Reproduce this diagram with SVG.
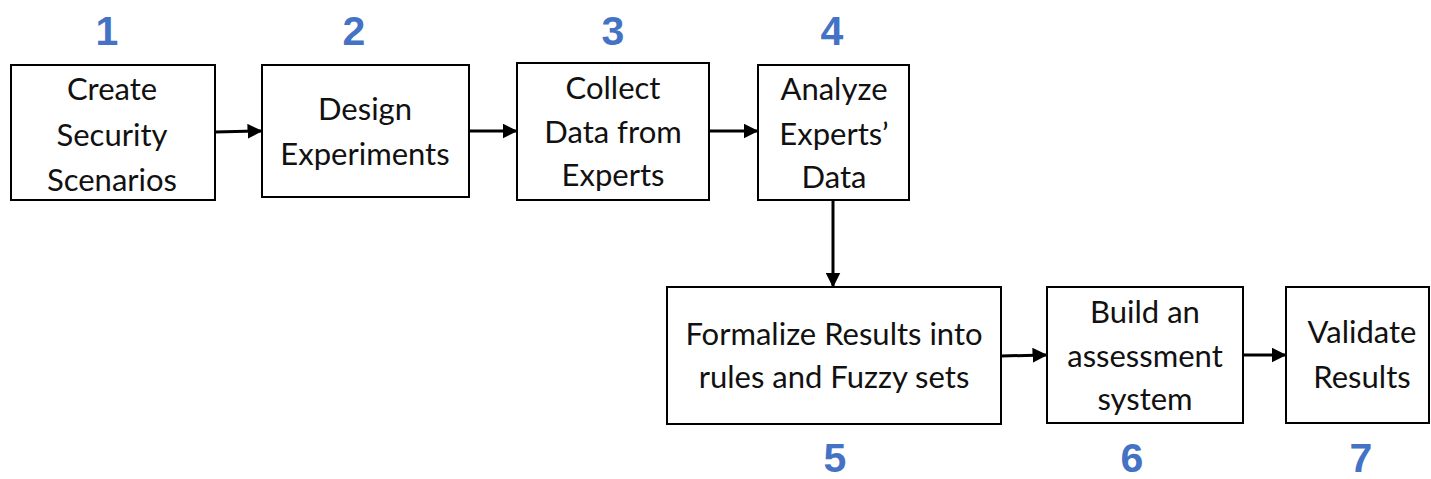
<svg xmlns="http://www.w3.org/2000/svg" width="1431" height="479" viewBox="0 0 1431 479">
<style>
.box{fill:#fff;stroke:#000;stroke-width:2}
.t{font-family:Lato,"Open Sans","Liberation Sans",sans-serif;font-size:31px;fill:#111;text-anchor:middle}
.n{font-family:"Liberation Sans",Arial,sans-serif;font-weight:bold;font-size:41px;fill:#4472C4;text-anchor:middle}
.c{stroke:#000;stroke-width:3;fill:none;marker-end:url(#ah)}
</style>
<defs>
<marker id="ah" markerWidth="5" markerHeight="5" refX="4.5" refY="2.5" orient="auto" markerUnits="strokeWidth">
<path d="M0,0 L5,2.5 L0,5 z" fill="#000"/>
</marker>
</defs>
<g id="connectors">
<line class="c" x1="215" y1="132" x2="261" y2="131"/>
<line class="c" x1="469" y1="131" x2="516" y2="131"/>
<line class="c" x1="709" y1="131" x2="757" y2="131"/>
<line class="c" x1="833" y1="200" x2="833" y2="286"/>
<line class="c" x1="1001" y1="356" x2="1046" y2="355"/>
<line class="c" x1="1243" y1="355" x2="1285" y2="355"/>
</g>
<g id="node1">
<rect class="box" x="11" y="65" width="204" height="135"/>
<text class="t" x="112" y="100">Create</text>
<text class="t" x="112" y="146">Security</text>
<text class="t" x="112" y="191">Scenarios</text>
<text class="n" x="107" y="45">1</text>
</g>
<g id="node2">
<rect class="box" x="262" y="65" width="207" height="132"/>
<text class="t" x="365" y="120">Design</text>
<text class="t" x="365" y="165">Experiments</text>
<text class="n" x="354" y="45">2</text>
</g>
<g id="node3">
<rect class="box" x="517" y="63" width="192" height="137"/>
<text class="t" x="613" y="99">Collect</text>
<text class="t" x="613" y="143">Data from</text>
<text class="t" x="613" y="186">Experts</text>
<text class="n" x="613" y="45">3</text>
</g>
<g id="node4">
<rect class="box" x="758" y="65" width="151" height="135"/>
<text class="t" x="834" y="100">Analyze</text>
<text class="t" x="834" y="145">Experts’</text>
<text class="t" x="834" y="188">Data</text>
<text class="n" x="832" y="45">4</text>
</g>
<g id="node5">
<rect class="box" x="667" y="287" width="334" height="137"/>
<text class="t" x="834" y="345">Formalize Results into</text>
<text class="t" x="834" y="388">rules and Fuzzy sets</text>
<text class="n" x="835" y="472">5</text>
</g>
<g id="node6">
<rect class="box" x="1047" y="287" width="196" height="136"/>
<text class="t" x="1145" y="323">Build an</text>
<text class="t" x="1145" y="367">assessment</text>
<text class="t" x="1145" y="410">system</text>
<text class="n" x="1132" y="472">6</text>
</g>
<g id="node7">
<rect class="box" x="1286" y="287" width="143" height="136"/>
<text class="t" x="1362" y="343">Validate</text>
<text class="t" x="1362" y="388">Results</text>
<text class="n" x="1361" y="472">7</text>
</g>
</svg>
